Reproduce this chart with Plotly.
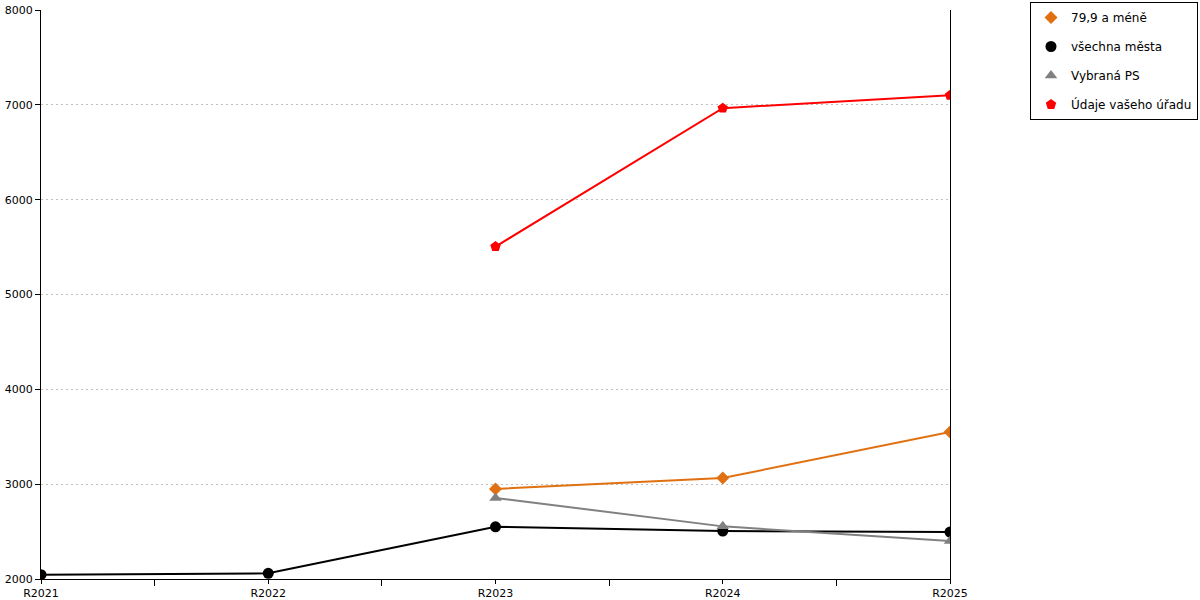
import plotly.graph_objects as go

years = ['R2021', 'R2022', 'R2023', 'R2024', 'R2025']
pos = [0, 1, 2, 3, 4]

# series values (None = no data)
mene_79 = [None, None, 2950, 3065, 3550]
vsechna = [2045, 2060, 2550, 2505, 2495]
vybrana = [None, None, 2855, 2555, 2400]
urad = [None, None, 5505, 6965, 7100]

series = [
    ('79,9 a méně', mene_79, '#e07010', 'diamond', 10),
    ('všechna města', vsechna, '#000000', 'circle', 11),
    ('Vybraná PS', vybrana, '#808080', 'triangle-up', 11),
    ('Údaje vašeho úřadu', urad, '#ff0000', 'pentagon', 11),
]

fig = go.Figure()
for (name, vals, col, sym, sz) in series:
    fig.add_trace(go.Scatter(
        x=pos, y=vals, mode='lines', line=dict(color=col, width=2),
        showlegend=False, hoverinfo='skip'
    ))
for (name, vals, col, sym, sz) in series:
    fig.add_trace(go.Scatter(
        x=pos, y=vals, mode='markers', name=name, legendgroup=name,
        marker=dict(color=col, symbol=sym, size=sz, line=dict(width=0)),
    ))

fig.update_layout(
    width=1200, height=600,
    margin=dict(l=41, r=250, t=10, b=21, autoexpand=False),
    paper_bgcolor='white', plot_bgcolor='white',
    font=dict(family='DejaVu Sans', size=12, color='#000000'),
    xaxis=dict(
        range=[0, 4], tickvals=pos, ticktext=years,
        showgrid=False, zeroline=False, automargin=False,
        showline=True, linecolor='black', linewidth=1,
        ticks='outside', ticklen=4, tickcolor='black',
        tickfont=dict(size=11),
        minor=dict(tickvals=[0.5, 1.5, 2.5, 3.5], ticks='outside',
                   ticklen=6, tickcolor='black', showgrid=False),
    ),
    yaxis=dict(
        range=[2000, 8000], dtick=1000, automargin=False,
        showgrid=True, gridcolor='#c0c0c0', griddash='2px,3px', gridwidth=1,
        zeroline=False,
        showline=True, linecolor='black', linewidth=1, mirror=True,
        ticks='outside', ticklen=5, tickcolor='black',
        tickfont=dict(size=11),
    ),
    legend=dict(
        x=(1198 - 41) / 909, y=1 + 8 / 569, xanchor='right', yanchor='top',
        bordercolor='black', borderwidth=1, bgcolor='white',
        font=dict(size=12), tracegroupgap=10, itemwidth=30,
    ),
)

# drop the browser's default body margin so the figure sits at 0,0
fig.write_html("out.html", config={'displayModeBar': False},
               post_script="document.body.style.margin = '0';")
